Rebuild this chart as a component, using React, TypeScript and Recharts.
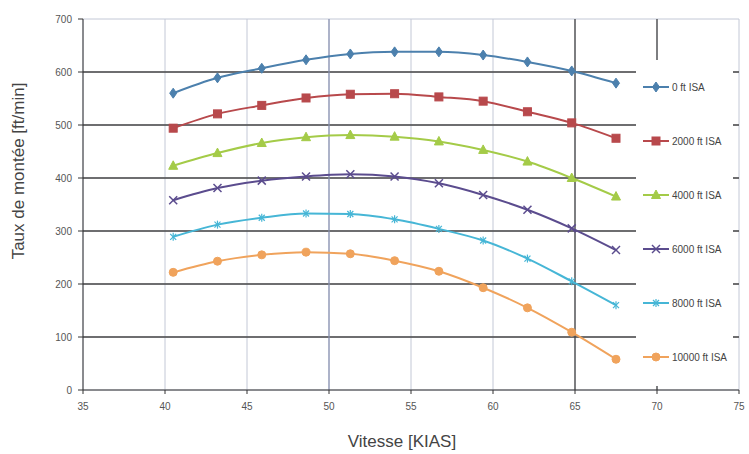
import React from "react"
import {
  LineChart,
  Line,
  XAxis,
  YAxis,
  CartesianGrid,
  ReferenceLine,
  Label,
} from "recharts"

// vitesses (KIAS) – 75 à 125 km/h par pas de 5
const speeds = [40.5, 43.2, 45.9, 48.6, 51.3, 54.0, 56.7, 59.4, 62.1, 64.8, 67.5]

const alt0 = [560, 589, 607, 623, 634, 638, 638, 632, 619, 602, 579]
const alt2000 = [494, 521, 537, 551, 558, 559, 553, 545, 525, 504, 475]
const alt4000 = [423, 447, 466, 477, 481, 478, 469, 453, 431, 400, 365]
const alt6000 = [358, 381, 395, 403, 407, 403, 390, 368, 340, 305, 264]
const alt8000 = [289, 312, 325, 333, 332, 322, 304, 282, 248, 205, 160]
const alt10000 = [222, 243, 255, 260, 257, 244, 224, 193, 155, 109, 58]

const xTicks = [35, 40, 45, 50, 55, 60, 65, 70, 75]
const yTicks = [0, 100, 200, 300, 400, 500, 600, 700]
const darkRows = [100, 200, 300, 400, 500, 600]
const darkCols = [65, 70]

const series = [
  { key: "a0", name: "0 ft ISA", values: alt0, color: "#4c80ad", shape: "diamond" },
  { key: "a2000", name: "2000 ft ISA", values: alt2000, color: "#b8494c", shape: "square" },
  { key: "a4000", name: "4000 ft ISA", values: alt4000, color: "#a4cb48", shape: "triangle" },
  { key: "a6000", name: "6000 ft ISA", values: alt6000, color: "#5b4c8e", shape: "cross" },
  { key: "a8000", name: "8000 ft ISA", values: alt8000, color: "#46b6d6", shape: "star" },
  { key: "a10000", name: "10000 ft ISA", values: alt10000, color: "#f0a35c", shape: "circle" },
]

const data = speeds.map((v, i) => {
  const row: Record<string, number> = { v }
  series.forEach((s) => (row[s.key] = s.values[i]))
  return row
})

const font = "Liberation Sans, Arial, sans-serif"

function Marker({ cx, cy, shape, color }: { cx: number; cy: number; shape: string; color: string }) {
  switch (shape) {
    case "diamond":
      return <polygon points={`${cx},${cy - 5} ${cx + 3.5},${cy} ${cx},${cy + 5} ${cx - 3.5},${cy}`} fill={color} stroke={color} />
    case "square":
      return <rect x={cx - 4} y={cy - 4} width={8} height={8} fill={color} stroke={color} />
    case "triangle":
      return <polygon points={`${cx},${cy - 5} ${cx + 4.5},${cy + 3.5} ${cx - 4.5},${cy + 3.5}`} fill={color} stroke={color} />
    case "cross":
      return (
        <g stroke={color} strokeWidth={1.5}>
          <line x1={cx - 4} y1={cy - 4} x2={cx + 4} y2={cy + 4} />
          <line x1={cx - 4} y1={cy + 4} x2={cx + 4} y2={cy - 4} />
        </g>
      )
    case "star":
      return (
        <g stroke={color} strokeWidth={1.2}>
          <line x1={cx - 3} y1={cy - 3} x2={cx + 3} y2={cy + 3} />
          <line x1={cx - 3} y1={cy + 3} x2={cx + 3} y2={cy - 3} />
          <line x1={cx} y1={cy - 4} x2={cx} y2={cy + 4} />
        </g>
      )
    default:
      return <circle cx={cx} cy={cy} r={4} fill={color} stroke={color} />
  }
}

const makeDot = (shape: string, color: string) =>
  // eslint-disable-next-line @typescript-eslint/no-explicit-any
  (props: any) => <Marker key={`${shape}-${props.index}`} cx={props.cx} cy={props.cy} shape={shape} color={color} />

function LegendBox() {
  return (
    <div
      style={{
        position: "absolute",
        left: 636,
        top: 60,
        width: 97,
        height: 326,
        background: "#fff",
        fontFamily: font,
      }}
    >
      {series.map((s) => (
        <div key={s.key} style={{ height: 54, display: "flex", alignItems: "center" }}>
          <svg width={29} height={12} style={{ marginLeft: 7 }}>
            <line x1={0} y1={6} x2={26} y2={6} stroke={s.color} strokeWidth={2} />
            <Marker cx={13} cy={6} shape={s.shape} color={s.color} />
          </svg>
          <span style={{ fontSize: 10, color: "#444" }}>{s.name}</span>
        </div>
      ))}
    </div>
  )
}

export default function App() {
  const tickStyle = { fontSize: 10, fill: "#555", fontFamily: font }
  return (
    <div style={{ position: "absolute", left: 0, top: 0, width: 749, height: 454, background: "#fff" }}>
      <LineChart width={749} height={454} data={data} margin={{ top: 19, right: 10, bottom: 34, left: 23 }}>
        <CartesianGrid stroke="#c3c8d6" strokeWidth={1} />
        {darkRows.map((y) => (
          <ReferenceLine key={`h${y}`} y={y} stroke="#474747" strokeWidth={1.3} />
        ))}
        <ReferenceLine x={50} stroke="#8a93b3" strokeWidth={1.2} />
        {darkCols.map((x) => (
          <ReferenceLine key={`v${x}`} x={x} stroke="#474747" strokeWidth={1.3} />
        ))}
        <XAxis
          type="number"
          dataKey="v"
          domain={[35, 75]}
          ticks={xTicks}
          tick={tickStyle}
          tickSize={4}
          tickMargin={9}
          stroke="#333"
          height={30}
        >
          <Label
            content={() => (
              <text x={402} y={447} textAnchor="middle" fontSize={17} fill="#444" fontFamily={font}>
                Vitesse [KIAS]
              </text>
            )}
          />
        </XAxis>
        <YAxis
          type="number"
          domain={[0, 700]}
          ticks={yTicks}
          tick={tickStyle}
          tickSize={5}
          tickMargin={6}
          stroke="#333"
          width={60}
        >
          <Label
            content={() => (
              <text
                x={24}
                y={171}
                transform="rotate(-90 24 171)"
                textAnchor="middle"
                fontSize={17}
                fill="#444"
                fontFamily={font}
              >
                Taux de montée [ft/min]
              </text>
            )}
          />
        </YAxis>
        {series.map((s) => (
          <Line
            key={s.key}
            type="monotone"
            dataKey={s.key}
            name={s.name}
            stroke={s.color}
            strokeWidth={2}
            dot={makeDot(s.shape, s.color)}
            activeDot={false}
            isAnimationActive={false}
          />
        ))}
      </LineChart>
      <LegendBox />
    </div>
  )
}
